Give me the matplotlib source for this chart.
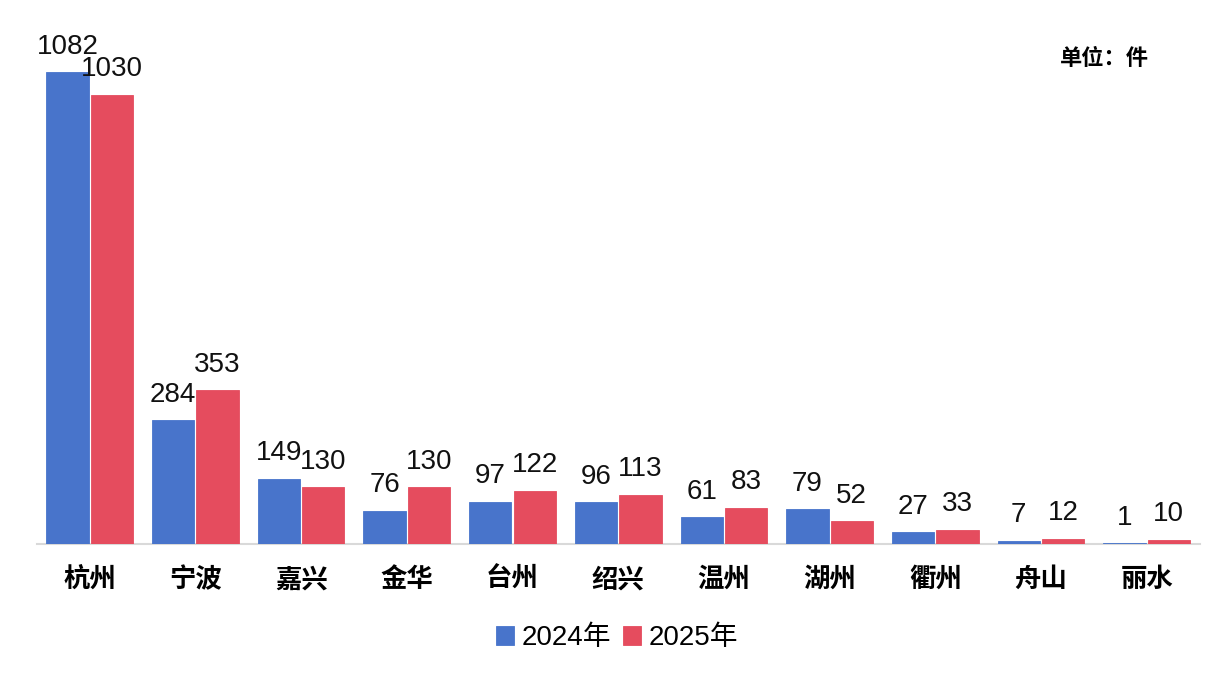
import numpy as np
import matplotlib
matplotlib.use("Agg")
import matplotlib.pyplot as plt

plt.rcParams['font.family'] = ['Liberation Sans', 'Noto Sans CJK SC', 'DejaVu Sans']

cities = ['杭州', '宁波', '嘉兴', '金华', '台州', '绍兴', '温州', '湖州', '衢州', '舟山', '丽水']
v2024 = [1082, 284, 149, 76, 97, 96, 61, 79, 27, 7, 1]
v2025 = [1030, 353, 130, 130, 122, 113, 83, 52, 33, 12, 10]
series = ['2024年', '2025年']
colors = ['#4874CB', '#E54C5E']

fig = plt.figure(figsize=(12.29, 6.74), dpi=100)
ax = fig.add_axes([0.030, 0.193, 0.946, 0.776])

x = np.arange(len(cities))
w = 0.4
off = 0.21
b1 = ax.bar(x - off, v2024, w, color=colors[0], edgecolor=colors[0], linewidth=0.6,
            label=series[0], zorder=3)
b2 = ax.bar(x + off, v2025, w, color=colors[1], edgecolor=colors[1], linewidth=0.6,
            label=series[1], zorder=3)

for bars, vals in ((b1, v2024), (b2, v2025)):
    for r, v in zip(bars, vals):
        ax.annotate(str(v), (r.get_x() + r.get_width() / 2, r.get_height()),
                    xytext=(0, 9), textcoords='offset points',
                    ha='center', va='bottom', fontsize=20, color='#111111')

ax.set_xlim(-0.5, 10.5)
ax.set_ylim(0, 1200)
ax.set_yticks([])
ax.set_xticks(x)
ax.set_xticklabels(cities, fontsize=19, fontweight='bold',
                   family=['Noto Sans CJK SC', 'DejaVu Sans'])
ax.tick_params(axis='x', length=0, pad=16)
for s in ['top', 'right', 'left']:
    ax.spines[s].set_visible(False)
ax.spines['bottom'].set_color('#D9D9D9')
ax.spines['bottom'].set_linewidth(1.5)
ax.spines['bottom'].set_zorder(1)

fig.text(0.935, 0.913, '单位：件', ha='right', va='center', fontsize=16,
         fontweight='bold', family=['Noto Sans CJK SC', 'DejaVu Sans'])

fig.legend(loc='center', bbox_to_anchor=(0.502, 0.053), ncol=2, frameon=False,
           fontsize=20, handlelength=0.65, handleheight=0.65, handletextpad=0.3,
           columnspacing=0.4)

fig.savefig('out.png', dpi=100)
